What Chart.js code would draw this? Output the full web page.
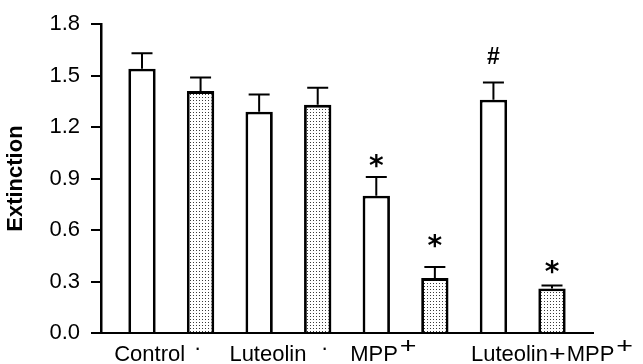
<!DOCTYPE html>
<html>
<head>
<meta charset="utf-8">
<script src="https://cdn.jsdelivr.net/npm/chart.js@4.4.1/dist/chart.umd.min.js"></script>
<style>
  html, body { margin: 0; padding: 0; background: #fff; }
  canvas { display: block; }
</style>
</head>
<body>
<canvas id="c" width="643" height="364"></canvas>
<script>
// Treatment groups; each has an open bar and a dotted bar
const groups = ['Control', 'Luteolin', 'MPP', 'Luteolin+MPP'];
const groupSup = ['', '', '+', '+'];

// Mean extinction and upper error for the open bars
const openMeans = [1.54, 1.29, 0.80, 1.36];
const openErr = [0.09, 0.10, 0.11, 0.10];

// Mean extinction and upper error for the dotted bars
const dotMeans = [1.41, 1.33, 0.32, 0.26];
const dotErr = [0.08, 0.10, 0.065, 0.017];

// Significance marks above the error bars
const openMarks = ['', '', '*', '#'];
const dotMarks = ['', '', '*', '*'];

// Y axis tick values
const yTicks = [0, 0.3, 0.6, 0.9, 1.2, 1.5, 1.8];

// Layout: gap (px) between each error cap and its mark, label anchors in x units
const openMarkGap = [0, 0, 16, 27];
const dotMarkGap = [0, 0, 26, 18];
const groupLabelAt = [0.13, 2.15, 4.12, 7.0];
const sepDotAt = [0.95, 3.12];

const FONT = '"Liberation Sans", Arial, Helvetica, sans-serif';

function makeDotPattern() {
  const tile = document.createElement('canvas');
  tile.width = 3; tile.height = 3;
  const g = tile.getContext('2d');
  g.fillStyle = '#ffffff';
  g.fillRect(0, 0, 3, 3);
  g.fillStyle = '#3c3c3c';
  g.fillRect(1, 1, 1, 1);
  return g.createPattern(tile, 'repeat');
}

const openPts = groups.map((_, i) => ({ x: 2 * i, y: openMeans[i] }));
const dotPts = groups.map((_, i) => ({ x: 2 * i + 1, y: dotMeans[i] }));

const errorBars = {
  id: 'errorBars',
  afterDatasetsDraw(chart) {
    const { ctx } = chart;
    const y = chart.scales.y;
    chart.data.datasets.forEach((ds, di) => {
      const meta = chart.getDatasetMeta(di);
      meta.data.forEach((bar, i) => {
        const cap = y.getPixelForValue(ds.data[i].y + ds.err[i]);
        ctx.save();
        ctx.strokeStyle = '#000';
        ctx.lineWidth = 2;
        ctx.beginPath();
        ctx.moveTo(bar.x, bar.y);
        ctx.lineTo(bar.x, cap);
        ctx.moveTo(bar.x - 10.5, cap);
        ctx.lineTo(bar.x + 10.5, cap);
        ctx.stroke();
        const mark = ds.marks[i];
        if (mark) {
          ctx.fillStyle = '#000';
          ctx.font = mark === '#' ? 'bold 23px ' + FONT : 'bold 28px "DejaVu Sans", sans-serif';
          ctx.textAlign = 'center';
          ctx.textBaseline = 'alphabetic';
          const m = ctx.measureText(mark);
          const cy = cap - ds.markGap[i];
          const base = cy + (m.actualBoundingBoxAscent - m.actualBoundingBoxDescent) / 2;
          ctx.fillText(mark, bar.x, base);
        }
        ctx.restore();
      });
    });
  }
};

// Draws a "+" stretched a little wider, as in the group names
function drawPlus(ctx, x, base) {
  ctx.save();
  ctx.translate(x, base);
  ctx.scale(1.3, 1);
  ctx.fillText('+', 0, 0);
  ctx.restore();
}

const groupLabels = {
  id: 'groupLabels',
  afterDraw(chart) {
    const { ctx, chartArea } = chart;
    const x = chart.scales.x;
    const base = chartArea.bottom + 28;
    ctx.save();
    ctx.fillStyle = '#000';
    ctx.font = '22px ' + FONT;
    ctx.textBaseline = 'alphabetic';
    ctx.textAlign = 'left';
    const plusW = ctx.measureText('+').width * 1.3;
    groups.forEach((label, i) => {
      const parts = label.split('+');
      const sup = groupSup[i];
      let total = 0;
      parts.forEach((p, k) => {
        total += ctx.measureText(p).width;
        if (k < parts.length - 1) total += plusW + 2;
      });
      if (sup) total += plusW + 2;
      let cx = x.getPixelForValue(groupLabelAt[i]) - total / 2;
      parts.forEach((p, k) => {
        ctx.fillText(p, cx, base);
        cx += ctx.measureText(p).width;
        if (k < parts.length - 1) {
          drawPlus(ctx, cx + 1, base);
          cx += plusW + 2;
        }
      });
      if (sup) drawPlus(ctx, cx + 2, base - 8);
    });
    ctx.textAlign = 'center';
    sepDotAt.forEach(v => ctx.fillText('·', x.getPixelForValue(v), base - 6));
    ctx.restore();
  }
};

new Chart(document.getElementById('c'), {
  type: 'bar',
  data: {
    datasets: [
      {
        data: openPts, err: openErr, marks: openMarks, markGap: openMarkGap,
        backgroundColor: '#ffffff', borderColor: '#000000', borderWidth: 2.8,
        categoryPercentage: 1, barPercentage: 0.667, grouped: false
      },
      {
        data: dotPts, err: dotErr, marks: dotMarks, markGap: dotMarkGap,
        backgroundColor: makeDotPattern(), borderColor: '#000000', borderWidth: 2.8,
        categoryPercentage: 1, barPercentage: 0.667, grouped: false
      }
    ]
  },
  options: {
    responsive: false,
    animation: false,
    devicePixelRatio: 1,
    layout: { padding: { top: 20, right: 50, bottom: 0, left: 0 } },
    plugins: { legend: { display: false }, tooltip: { enabled: false } },
    scales: {
      x: {
        type: 'linear', min: -0.7, max: 7.7, offset: false,
        grid: { display: false },
        ticks: { display: false },
        border: { display: true, color: '#000', width: 2 },
        afterFit(s) { s.height = 31; }
      },
      y: {
        min: 0, max: 1.8,
        afterBuildTicks(s) { s.ticks = yTicks.map(v => ({ value: v })); },
        ticks: {
          color: '#000', padding: 11,
          font: { family: FONT, size: 22 },
          callback: v => Number(v).toFixed(1)
        },
        grid: { display: true, drawOnChartArea: false, drawTicks: true, tickLength: 10, color: '#000', lineWidth: 2 },
        border: { display: true, color: '#000', width: 2.5 },
        title: {
          display: true, text: 'Extinction', color: '#000',
          font: { family: FONT, size: 22, weight: 'bold' },
          padding: { top: 3, bottom: 0 }
        },
        afterFit(s) { s.width = 101; }
      }
    }
  },
  plugins: [errorBars, groupLabels]
});
</script>
</body>
</html>
